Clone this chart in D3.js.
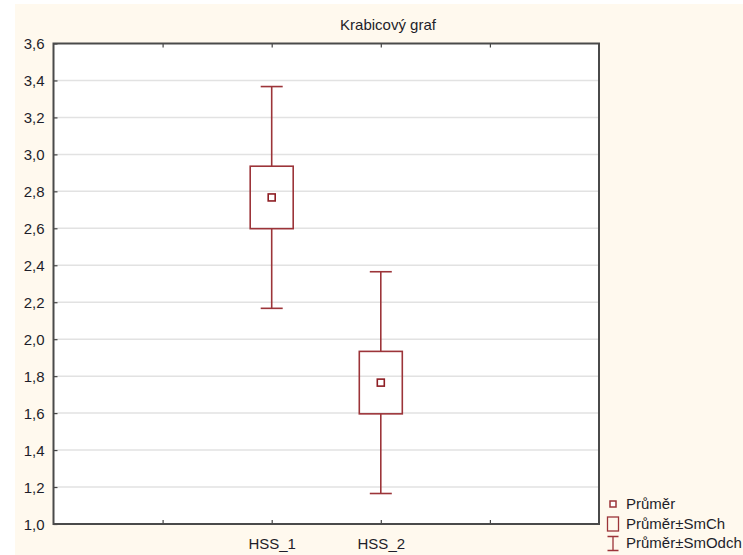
<!DOCTYPE html>
<html lang="cs">
<head>
<meta charset="utf-8">
<title>Krabicový graf</title>
<style>
  * { margin: 0; padding: 0; }
  body { background: #fff; width: 743px; height: 555px; overflow: hidden; }
  svg { display: block; }
  text { font-family: "Liberation Sans", Arial, sans-serif; font-size: 15px; fill: #1e1e2a; }
</style>
</head>
<body>
<svg id="chart" width="743" height="555"></svg>
<script src="https://cdn.jsdelivr.net/npm/d3@7"></script>
<script>
// data
const slots = ["", "HSS_1", "HSS_2", " "];
const groups = ["HSS_1", "HSS_2"];
const means = [2.767, 1.765];
const stdErr = [0.169, 0.169];
const stdDev = [0.600, 0.600];
const yTicks = [1.0, 1.2, 1.4, 1.6, 1.8, 2.0, 2.2, 2.4, 2.6, 2.8, 3.0, 3.2, 3.4, 3.6];
const legendLabels = ["Průměr", "Průměr±SmCh", "Průměr±SmOdch"];

const red = "#9c3439";
const plot = { left: 53.5, top: 43.5, right: 599, bottom: 524 };

const svg = d3.select("#chart");

// cream background panel
svg.append("rect")
  .attr("x", 15).attr("y", 4).attr("width", 728).attr("height", 551)
  .attr("fill", "#fff9ee");

svg.append("rect")
  .attr("x", plot.left).attr("y", plot.top)
  .attr("width", plot.right - plot.left).attr("height", plot.bottom - plot.top)
  .attr("fill", "#fff");

const x = d3.scalePoint().domain(slots).range([plot.left, plot.right]).padding(1);
const y = d3.scaleLinear().domain([1.0, 3.6]).range([plot.bottom, plot.top]);
const fmt = v => d3.format(".1f")(v).replace(".", ",");

// grid
svg.append("g").selectAll("line")
  .data(yTicks.slice(1, -1)).join("line")
  .attr("x1", plot.left).attr("x2", plot.right)
  .attr("y1", d => y(d)).attr("y2", d => y(d))
  .attr("stroke", "#e2e2e2").attr("stroke-width", 1.5);

// y axis (ticks point inward)
const yAxis = svg.append("g")
  .attr("transform", `translate(${plot.left},0)`)
  .call(d3.axisRight(y).tickValues(yTicks).tickFormat(fmt).tickSize(4));
yAxis.select(".domain").remove();
yAxis.selectAll("line").attr("stroke", "#444").attr("stroke-width", 1.2);
yAxis.selectAll("text")
  .attr("x", -9).attr("dy", "0.36em").attr("text-anchor", "end")
  .attr("fill", "#1e1e2a");

// x axis bottom (ticks inward)
const xAxis = svg.append("g")
  .attr("transform", `translate(0,${plot.bottom})`)
  .call(d3.axisTop(x).tickSize(4));
xAxis.select(".domain").remove();
xAxis.selectAll("line").attr("stroke", "#444").attr("stroke-width", 1.2);
xAxis.selectAll("text")
  .attr("y", 25).attr("dy", 0).attr("fill", "#1e1e2a");

// top ticks
const xTop = svg.append("g")
  .attr("transform", `translate(0,${plot.top})`)
  .call(d3.axisBottom(x).tickSize(4).tickFormat(""));
xTop.select(".domain").remove();
xTop.selectAll("line").attr("stroke", "#444").attr("stroke-width", 1.2);

// frame
svg.append("rect")
  .attr("x", plot.left).attr("y", plot.top)
  .attr("width", plot.right - plot.left).attr("height", plot.bottom - plot.top)
  .attr("fill", "none").attr("stroke", "#4a4a4a").attr("stroke-width", 2);

// boxes
const boxW = 43, capW = 22, meanS = 7;
const g = svg.append("g").selectAll("g")
  .data(groups.map((k, i) => ({ k, m: means[i], se: stdErr[i], sd: stdDev[i] })))
  .join("g")
  .attr("transform", d => `translate(${x(d.k)},0)`);

g.append("line")
  .attr("y1", d => y(d.m + d.sd)).attr("y2", d => y(d.m + d.se))
  .attr("stroke", red).attr("stroke-width", 1.6);
g.append("line")
  .attr("y1", d => y(d.m - d.se)).attr("y2", d => y(d.m - d.sd))
  .attr("stroke", red).attr("stroke-width", 1.6);
g.append("line")
  .attr("x1", -capW / 2).attr("x2", capW / 2)
  .attr("y1", d => y(d.m + d.sd)).attr("y2", d => y(d.m + d.sd))
  .attr("stroke", red).attr("stroke-width", 1.6);
g.append("line")
  .attr("x1", -capW / 2).attr("x2", capW / 2)
  .attr("y1", d => y(d.m - d.sd)).attr("y2", d => y(d.m - d.sd))
  .attr("stroke", red).attr("stroke-width", 1.6);
g.append("rect")
  .attr("x", -boxW / 2).attr("width", boxW)
  .attr("y", d => y(d.m + d.se)).attr("height", d => y(d.m - d.se) - y(d.m + d.se))
  .attr("fill", "none").attr("stroke", red).attr("stroke-width", 1.6);
g.append("rect")
  .attr("x", -meanS / 2).attr("width", meanS)
  .attr("y", d => y(d.m) - meanS / 2).attr("height", meanS)
  .attr("fill", "#fff").attr("stroke", "#8e1e24").attr("stroke-width", 1.6);

// title
svg.append("text")
  .attr("x", 388).attr("y", 30).attr("text-anchor", "middle")
  .text("Krabicový graf");

// legend
const lg = svg.append("g").attr("transform", "translate(613,0)");
const rowY = [504, 524, 543];
lg.append("rect")
  .attr("x", -3).attr("y", rowY[0] - 3).attr("width", 6).attr("height", 6)
  .attr("fill", "#fff").attr("stroke", red).attr("stroke-width", 1.5);
lg.append("rect")
  .attr("x", -5.5).attr("y", rowY[1] - 7).attr("width", 11).attr("height", 14)
  .attr("fill", "none").attr("stroke", red).attr("stroke-width", 1.3);
lg.append("path")
  .attr("d", `M-5.5,${rowY[2] - 6.5}H5.5M0,${rowY[2] - 6.5}V${rowY[2] + 7.5}M-5.5,${rowY[2] + 7.5}H5.5`)
  .attr("fill", "none").attr("stroke", red).attr("stroke-width", 1.3);
lg.selectAll("text.lab")
  .data(legendLabels).join("text")
  .attr("class", "lab")
  .attr("x", 13).attr("y", (d, i) => rowY[i]).attr("dy", "0.36em")
  .text(d => d);
</script>
</body>
</html>
